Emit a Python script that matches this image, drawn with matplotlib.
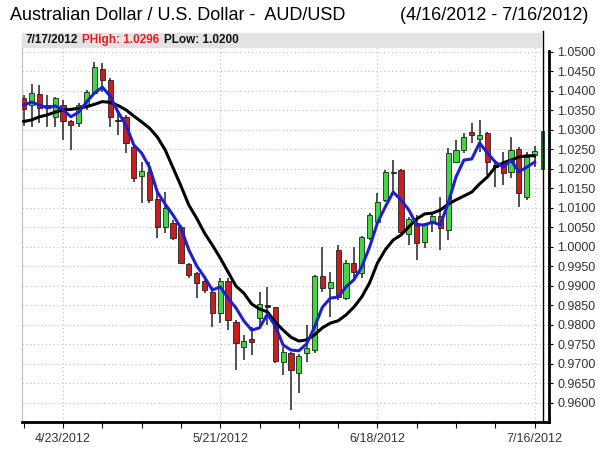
import numpy as np
import pandas as pd
import matplotlib
matplotlib.use("Agg")
import matplotlib.pyplot as plt
from matplotlib.patches import Rectangle

plt.rcParams['font.family'] = ['Liberation Sans', 'DejaVu Sans']

# trading days 4/16/2012 .. 7/17/2012
dates = pd.bdate_range('2012-04-16', '2012-07-17')

opens = [1.0380, 1.0363, 1.0391, 1.0363, 1.0333, 1.0363, 1.0321, 1.0316, 1.0363, 1.0393,
         1.0456, 1.0427, 1.0325, 1.0333, 1.0256, 1.0181, 1.0192, 1.0122, 1.0051, 1.0060,
         1.0051, 0.9956, 0.9933, 0.9913, 0.9885, 0.9831, 0.9913, 0.9808, 0.9742, 0.9763,
         0.9816, 0.9851, 0.9845, 0.9705, 0.9728, 0.9675, 0.9727, 0.9735, 0.9925, 0.9893,
         0.9992, 0.9868, 0.9957, 0.9932, 1.0022, 1.0064, 1.0120, 1.0190, 1.0197, 1.0033,
         1.0060, 1.0013, 1.0064, 1.0079, 1.0043, 1.0218, 1.0248, 1.0295, 1.0275, 1.0291,
         1.0210, 1.0210, 1.0192, 1.0250, 1.0128, 1.0235, 1.0200]
highs = [1.0390, 1.0416, 1.0415, 1.0389, 1.0385, 1.0376, 1.0325, 1.0368, 1.0402, 1.0473,
         1.0470, 1.0432, 1.0350, 1.0338, 1.0261, 1.0218, 1.0218, 1.0141, 1.0141, 1.0068,
         1.0055, 0.9957, 0.9936, 0.9916, 0.9897, 0.9919, 0.9919, 0.9812, 0.9774, 0.9795,
         0.9885, 0.9896, 0.9846, 0.9742, 0.9731, 0.9725, 0.9799, 0.9927, 1.0000, 0.9936,
         1.0004, 0.9966, 1.0000, 1.0027, 1.0087, 1.0137, 1.0197, 1.0222, 1.0199, 1.0077,
         1.0081, 1.0060, 1.0086, 1.0127, 1.0252, 1.0274, 1.0292, 1.0318, 1.0325, 1.0295,
         1.0222, 1.0244, 1.0282, 1.0256, 1.0244, 1.0258, 1.0296]
lows = [1.0310, 1.0308, 1.0316, 1.0308, 1.0308, 1.0274, 1.0248, 1.0308, 1.0351, 1.0389,
        1.0397, 1.0308, 1.0286, 1.0239, 1.0167, 1.0111, 1.0111, 1.0022, 1.0034, 1.0017,
        0.9955, 0.9919, 0.9868, 0.9881, 0.9795, 0.9804, 0.9786, 0.9684, 0.9709, 0.9722,
        0.9791, 0.9799, 0.9701, 0.9671, 0.9581, 0.9626, 0.9705, 0.9728, 0.9885, 0.9821,
        0.9863, 0.9863, 0.9919, 0.9919, 1.0017, 1.0060, 1.0115, 1.0141, 1.0035, 1.0004,
        0.9966, 0.9996, 1.0038, 0.9992, 1.0017, 1.0214, 1.0239, 1.0265, 1.0244, 1.0184,
        1.0154, 1.0158, 1.0175, 1.0103, 1.0120, 1.0205, 1.0200]
closes = [1.0352, 1.0393, 1.0355, 1.0356, 1.0381, 1.0321, 1.0312, 1.0363, 1.0397, 1.0462,
          1.0427, 1.0333, 1.0322, 1.0265, 1.0175, 1.0194, 1.0120, 1.0051, 1.0098, 1.0022,
          0.9959, 0.9927, 0.9906, 0.9889, 0.9831, 0.9913, 0.9812, 0.9752, 0.9759, 0.9756,
          0.9853, 0.9846, 0.9708, 0.9731, 0.9684, 0.9720, 0.9739, 0.9925, 0.9893, 0.9910,
          0.9872, 0.9957, 0.9936, 1.0026, 1.0081, 1.0115, 1.0192, 1.0188, 1.0038, 1.0070,
          1.0009, 1.0056, 1.0079, 1.0047, 1.0239, 1.0248, 1.0281, 1.0286, 1.0286, 1.0218,
          1.0205, 1.0190, 1.0248, 1.0137, 1.0231, 1.0246, 1.0290]

# moving averages as drawn (no value for the last day)
ma_short = [1.0363, 1.0371, 1.0363, 1.0356, 1.0361, 1.0351, 1.0333, 1.0345, 1.0371, 1.0394,
            1.0409, 1.0386, 1.0345, 1.0312, 1.0261, 1.0240, 1.0204, 1.0140, 1.0109, 1.0081,
            1.0048, 0.9992, 0.9951, 0.9922, 0.9889, 0.9897, 0.9868, 0.9843, 0.9810, 0.9786,
            0.9792, 0.9827, 0.9797, 0.9748, 0.9735, 0.9733, 0.9751, 0.9794, 0.9845, 0.9868,
            0.9871, 0.9897, 0.9915, 0.9948, 0.9999, 1.0061, 1.0102, 1.0140, 1.0120, 1.0094,
            1.0056, 1.0056, 1.0063, 1.0056, 1.0112, 1.0179, 1.0222, 1.0225, 1.0266, 1.0240,
            1.0217, 1.0204, 1.0222, 1.0192, 1.0204, 1.0217]
ma_long = [1.0321, 1.0325, 1.0333, 1.0338, 1.0345, 1.0351, 1.0352, 1.0355, 1.0359, 1.0365,
           1.0372, 1.0370, 1.0362, 1.0351, 1.0335, 1.0320, 1.0304, 1.0281, 1.0248, 1.0202,
           1.0156, 1.0107, 1.0073, 1.0035, 1.0004, 0.9971, 0.9935, 0.9899, 0.9881, 0.9853,
           0.9840, 0.9833, 0.9807, 0.9786, 0.9768, 0.9758, 0.9761, 0.9774, 0.9792, 0.9804,
           0.9810, 0.9825, 0.9845, 0.9871, 0.9907, 0.9958, 0.9992, 1.0017, 1.0030, 1.0051,
           1.0071, 1.0084, 1.0086, 1.0094, 1.0109, 1.0120, 1.0130, 1.0140, 1.0161, 1.0179,
           1.0204, 1.0215, 1.0222, 1.0230, 1.0233, 1.0233]

label_dates = ['2012-04-23', '2012-05-21', '2012-06-18', '2012-07-16']
yticks = np.arange(0.96, 1.05001, 0.005)

o, h, l, c = (np.array(v) for v in (opens, highs, lows, closes))
x = np.arange(len(dates))
n = len(x) - 1  # last day is drawn as a plain bar

fig = plt.figure(figsize=(6, 4.5), dpi=100)
ax = fig.add_axes([22 / 600, 1 - 422 / 450, 527 / 600, 375 / 450])

# candles
ax.vlines(x[:n], l[:n], h[:n], color='#333333', lw=1.2, zorder=2)
body_lo = np.minimum(o, c)
body_h = np.maximum(np.abs(c - o), 0.00025)
cols = np.where(c >= o, '#3fd83f', '#c81e1e')
cols[np.abs(c - o) < 0.0006] = '#222222'
ax.bar(x[:n], body_h[:n], bottom=body_lo[:n], width=0.66, color=cols[:n],
       edgecolor='#222222', linewidth=0.6, zorder=3)
ax.bar(x[n], h[n] - l[n], bottom=l[n], width=0.35, color='#2b6b2b',
       edgecolor='#1d3d1d', linewidth=0.6, zorder=3)

ax.plot(x[:n], ma_long, color='black', lw=2.2, zorder=4)
ax.plot(x[:n], ma_short, color='#1f1fd0', lw=2.2, zorder=5)

# current-day marker
ax.axvline(x[n] + 0.12, ymin=0, ymax=1.043, color='black', lw=1, clip_on=False, zorder=6)

ax.set_xlim(-0.22, 66.83)
ax.set_ylim(0.95505, 1.0512)

ax.yaxis.tick_right()
ax.set_yticks(yticks)
ax.set_yticklabels(['%.4f' % v for v in yticks])
major = [dates.get_loc(pd.Timestamp(d)) for d in label_dates]
ax.set_xticks(major)
ax.set_xticklabels(['%d/%d/%d' % (dates[i].month, dates[i].day, dates[i].year) for i in major])
ax.set_xticks(np.arange(0, len(x), 5), minor=True)
ax.tick_params(axis='y', length=3, width=0.8, pad=3, labelsize=9, labelcolor='#333333')
ax.tick_params(axis='x', which='both', length=4, width=0.8, pad=4, labelsize=9, labelcolor='#333333')
ax.grid(True, which='major', ls=(0, (1, 2.5)), color='#bdbdbd', lw=0.8)
ax.set_axisbelow(True)

ax.spines['top'].set_visible(False)
ax.spines['left'].set_color('#c0c0c0')
ax.spines['left'].set_linewidth(0.8)
ax.spines['right'].set_linewidth(2)
ax.spines['bottom'].set_linewidth(2)
ax.spines['right'].set_bounds(0.95505, 1.0503)

# header band with the last day's range
fig.patches.append(Rectangle((22 / 600, 1 - 47 / 450), 519 / 600, 14 / 450,
                             transform=fig.transFigure, color='#e3e3e3', zorder=0))
renderer = fig.canvas.get_renderer()
hx = 25
for txt, col in [('7/17/2012', '#111111'), ('PHigh: 1.0296', '#e02020'), ('PLow: 1.0200', '#111111')]:
    t = fig.text(hx / 600, 1 - 40 / 450, txt, fontsize=8.5, fontweight='bold', color=col, va='center')
    hx += t.get_window_extent(renderer).width + 5

fig.text(10 / 600, 1 - 15 / 450, 'Australian Dollar / U.S. Dollar -  AUD/USD', fontsize=13, va='center')
fig.text(588 / 600, 1 - 15 / 450, '(4/16/2012 - 7/16/2012)', fontsize=13, va='center', ha='right')

fig.savefig('out.png', dpi=100)
